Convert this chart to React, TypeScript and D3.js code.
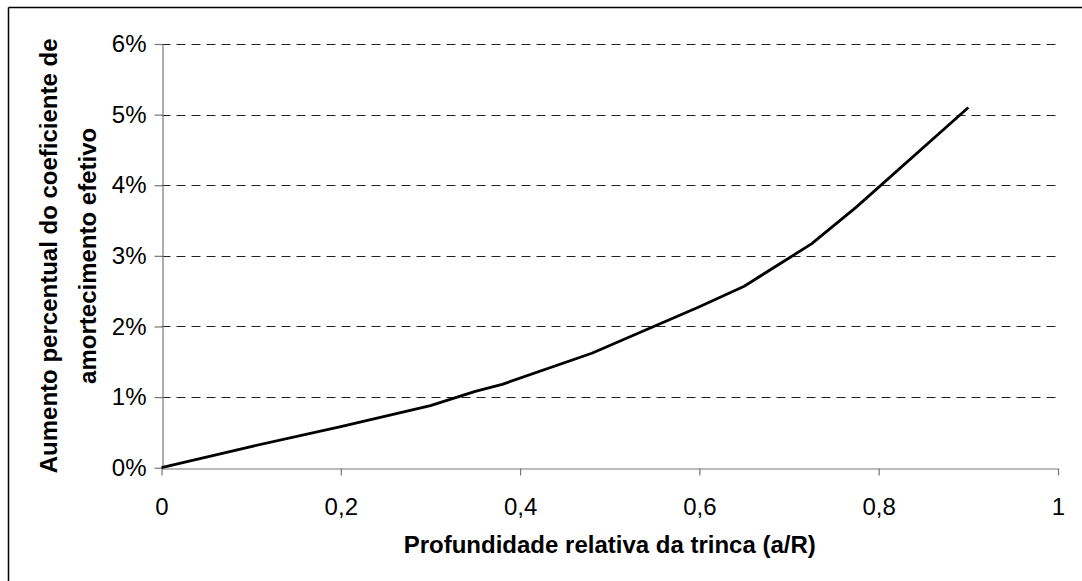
import React, { useRef, useEffect } from 'react';
import * as d3 from 'd3';

// a/R values
const crackDepth = [0, 0.1, 0.2, 0.3, 0.35, 0.38, 0.48, 0.6, 0.65, 0.7, 0.725, 0.775, 0.9];
// percentage increase of effective damping (fraction)
const dampingIncrease = [0, 0.003, 0.0058, 0.0088, 0.0108, 0.0118, 0.0162, 0.0228, 0.0257, 0.0297, 0.0317, 0.0369, 0.051];

const xTicks = [0, 0.2, 0.4, 0.6, 0.8, 1];
const yTicks = [0, 0.01, 0.02, 0.03, 0.04, 0.05, 0.06];

const yTitleLines = ['Aumento percentual do coeficiente de', 'amortecimento efetivo'];
const xTitle = 'Profundidade relativa da trinca (a/R)';

const App = () => {
    const svgRef = useRef<SVGSVGElement>(null);

    useEffect(() => {
        const width = 1082;
        const height = 581;
        const marginLeft = 161.5;
        const marginRight = 24;
        const marginTop = 44;
        const marginBottom = 113.3;
        const font = 'Arial, "Liberation Sans", sans-serif';

        const svg = d3.select(svgRef.current)
            .attr('width', width)
            .attr('height', height)
            .attr('viewBox', `0 0 ${width} ${height}`);

        svg.selectAll('*').remove();

        const data = crackDepth.map((d, i) => ({ x: d, y: dampingIncrease[i] }));

        const x = d3.scaleLinear()
            .domain([0, 1])
            .range([marginLeft, width - marginRight]);

        const y = d3.scaleLinear()
            .domain([0, 0.06])
            .range([height - marginBottom, marginTop]);

        // frame (only left and top edges are visible)
        svg.append('line')
            .attr('x1', 8.5).attr('x2', 8.5).attr('y1', 7.5).attr('y2', height)
            .attr('stroke', '#000').attr('stroke-width', 1.5);
        svg.append('line')
            .attr('x1', 8.5).attr('x2', width).attr('y1', 7.5).attr('y2', 7.5)
            .attr('stroke', '#000').attr('stroke-width', 1.5);

        // dashed grid lines
        svg.append('g')
            .selectAll('line')
            .data(yTicks.filter(d => d > 0))
            .join('line')
            .attr('x1', x(0))
            .attr('x2', x(1))
            .attr('y1', d => Math.round(y(d)) + 0.5)
            .attr('y2', d => Math.round(y(d)) + 0.5)
            .attr('stroke', '#222')
            .attr('stroke-width', 1)
            .attr('stroke-dasharray', '9,6');

        // x axis
        svg.append('g')
            .attr('transform', `translate(0,${Math.round(y(0)) + 0.5})`)
            .call(d3.axisBottom(x)
                .tickValues(xTicks)
                .tickSize(7)
                .tickSizeOuter(0)
                .tickPadding(22)
                .tickFormat(d => String(d).replace('.', ',')))
            .call(g => g.selectAll('line, path').attr('stroke', '#777').attr('stroke-width', 1.2))
            .call(g => g.selectAll('text')
                .attr('fill', '#000')
                .attr('font-family', font)
                .attr('font-size', 24));

        // y axis
        svg.append('g')
            .attr('transform', `translate(${Math.round(x(0)) + 0.5},0)`)
            .call(d3.axisLeft(y)
                .tickValues(yTicks)
                .tickSize(8)
                .tickSizeOuter(0)
                .tickPadding(8)
                .tickFormat(d3.format('.0%')))
            .call(g => g.selectAll('line, path').attr('stroke', '#777').attr('stroke-width', 1.2))
            .call(g => g.selectAll('text')
                .attr('fill', '#000')
                .attr('font-family', font)
                .attr('font-size', 24));

        // curve
        const line = d3.line<{ x: number; y: number }>()
            .x(d => x(d.x))
            .y(d => y(d.y));

        svg.append('path')
            .datum(data)
            .attr('fill', 'none')
            .attr('stroke', '#000')
            .attr('stroke-width', 2.8)
            .attr('stroke-linejoin', 'round')
            .attr('d', line);

        // axis titles
        svg.append('text')
            .attr('x', (x(0) + x(1)) / 2)
            .attr('y', 553)
            .attr('text-anchor', 'middle')
            .attr('font-family', font)
            .attr('font-size', 24)
            .attr('font-weight', 'bold')
            .text(xTitle);

        const yTitle = svg.append('text')
            .attr('transform', `translate(0,${(y(0) + y(0.06)) / 2}) rotate(-90)`)
            .attr('text-anchor', 'middle')
            .attr('font-family', font)
            .attr('font-size', 24)
            .attr('font-weight', 'bold');
        yTitle.selectAll('tspan')
            .data(yTitleLines)
            .join('tspan')
            .attr('x', 0)
            .attr('y', (d, i) => 57 + i * 39)
            .text(d => d);
    }, []);

    return (
        <svg ref={svgRef} style={{ position: 'absolute', left: 0, top: 0, display: 'block' }}></svg>
    );
};

export default App;
